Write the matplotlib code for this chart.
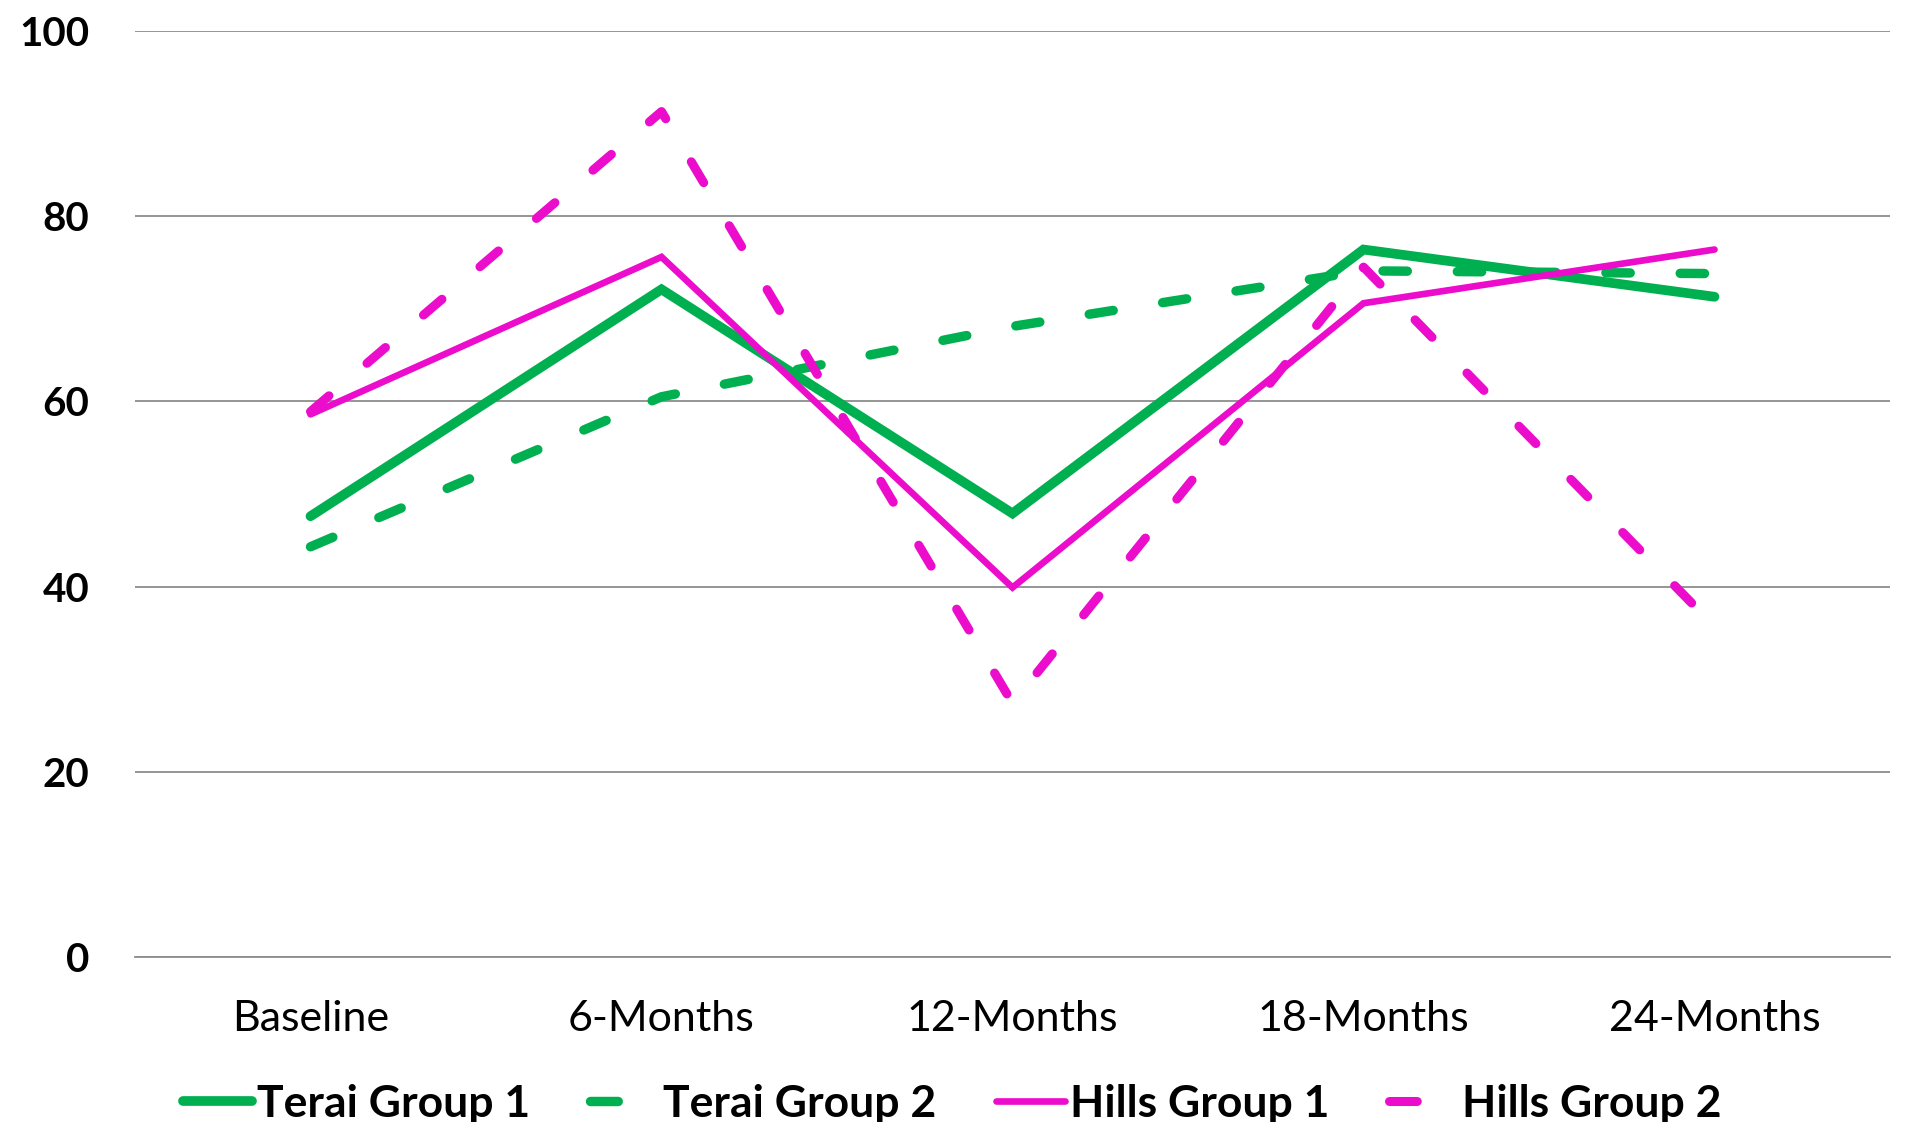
import matplotlib
matplotlib.use("Agg")
import matplotlib.pyplot as plt

plt.rcParams['font.family'] = ['Lato', 'DejaVu Sans']
plt.rcParams['lines.scale_dashes'] = False

categories = ["Baseline", "6-Months", "12-Months", "18-Months", "24-Months"]
terai_group1 = [47.6, 72.1, 47.9, 76.4, 71.3]
terai_group2 = [44.3, 60.5, 68.1, 74.1, 73.8]
hills_group1 = [58.6, 75.6, 39.9, 70.6, 76.4]
hills_group2 = [58.9, 91.3, 27.4, 74.5, 35.7]
y_ticks = [0, 20, 40, 60, 80, 100]

GREEN = "#00B050"
MAGENTA = "#EC0CCB"

fig = plt.figure(figsize=(19.05, 11.22), dpi=100)
ax = fig.add_axes([135 / 1905, 1 - 957 / 1122, (1890 - 135) / 1905, (957 - 31) / 1122])

x = list(range(len(categories)))
dash = (17.5, 36)

ax.plot(x, terai_group1, color=GREEN, lw=7.0, solid_joinstyle='miter',
        solid_capstyle='round', label="Terai Group 1", zorder=3)
ax.plot(x, terai_group2, color=GREEN, lw=6.8, linestyle=(0, dash),
        dash_capstyle='round', dash_joinstyle='round', label="Terai Group 2", zorder=3)
ax.plot(x, hills_group1, color=MAGENTA, lw=4.8, solid_joinstyle='miter',
        solid_capstyle='round', label="Hills Group 1", zorder=4)
ax.plot(x, hills_group2, color=MAGENTA, lw=6.5, linestyle=(0, dash),
        dash_capstyle='round', dash_joinstyle='round', label="Hills Group 2", zorder=4)

ax.set_xlim(-0.5, len(categories) - 0.5)
ax.set_ylim(0, 100)
ax.set_yticks(y_ticks)
ax.set_yticklabels([str(v) for v in y_ticks], fontsize=29, fontweight='bold')
ax.set_xticks(x)
ax.set_xticklabels(categories, fontsize=31)
ax.tick_params(axis='y', length=0, pad=33)
ax.tick_params(axis='x', length=0, pad=31)

ax.grid(axis='y', color='#8C8C8C', lw=1.3)
ax.set_axisbelow(True)
for side in ['top', 'right', 'left']:
    ax.spines[side].set_visible(False)
ax.spines['bottom'].set_color('#8C8C8C')
ax.spines['bottom'].set_linewidth(1.3)

leg = fig.legend(loc='center', bbox_to_anchor=(0.5, 1 - 1104 / 1122), ncol=4,
                 frameon=False, prop={'size': 32, 'weight': 'bold'},
                 handlelength=1.55, handletextpad=0.1, columnspacing=1.35,
                 borderaxespad=0, borderpad=0)
# legend keys for the dashed series show a single dash
for handle in leg.get_lines():
    if handle.get_linestyle() not in ('-', 'solid'):
        handle.set_dashes((20, 60))

fig.savefig("out.png", dpi=100)
